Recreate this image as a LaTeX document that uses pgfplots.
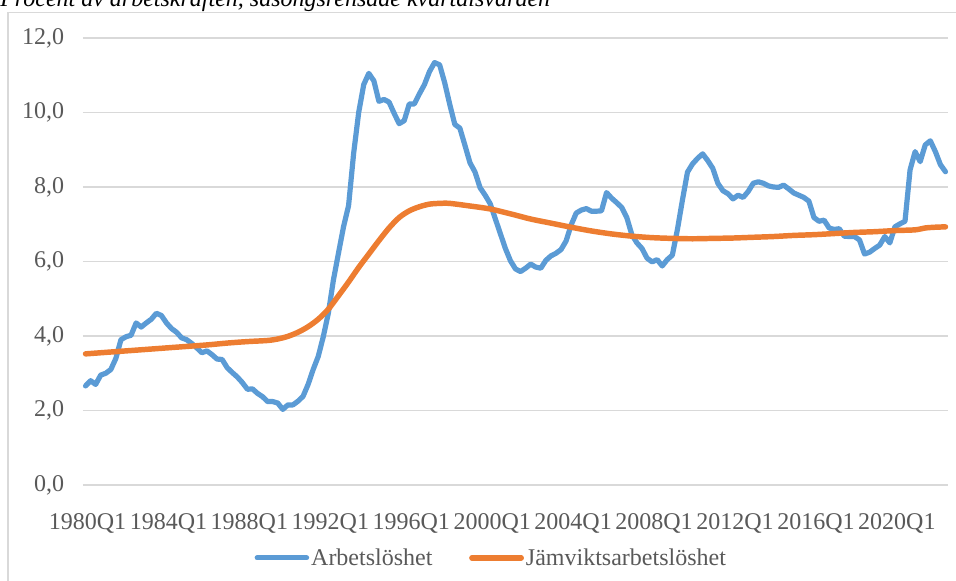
\documentclass[border=0pt]{standalone}
\usepackage{fontspec}
\setmainfont{Liberation Serif}
\usepackage{pgfplots}
\pgfplotsset{compat=1.18}
\definecolor{blueline}{HTML}{5B9BD5}
\definecolor{orangeline}{HTML}{ED7D31}
\definecolor{gridgray}{HTML}{D9D9D9}
\definecolor{labelgray}{HTML}{595959}

% quarter index (0 = 1980Q1) and unemployment, percent
\pgfplotstableread{
q v
0 2.66
1 2.80
2 2.70
3 2.95
4 3.00
5 3.10
6 3.40
7 3.90
8 3.98
9 4.02
10 4.35
11 4.24
12 4.35
13 4.45
14 4.61
15 4.55
16 4.35
17 4.20
18 4.10
19 3.95
20 3.90
21 3.80
22 3.68
23 3.55
24 3.60
25 3.50
26 3.38
27 3.37
28 3.15
29 3.02
30 2.90
31 2.75
32 2.57
33 2.58
34 2.46
35 2.37
36 2.24
37 2.24
38 2.20
39 2.03
40 2.15
41 2.15
42 2.25
43 2.38
44 2.70
45 3.10
46 3.45
47 3.98
48 4.61
49 5.50
50 6.22
51 6.93
52 7.50
53 8.90
54 10.00
55 10.75
56 11.05
57 10.85
58 10.30
59 10.35
60 10.28
61 9.98
62 9.70
63 9.78
64 10.23
65 10.23
66 10.50
67 10.75
68 11.10
69 11.34
70 11.28
71 10.80
72 10.22
73 9.68
74 9.58
75 9.12
76 8.65
77 8.40
78 7.98
79 7.78
80 7.55
81 7.15
82 6.75
83 6.35
84 6.02
85 5.80
86 5.73
87 5.82
88 5.93
89 5.85
90 5.82
91 6.03
92 6.15
93 6.22
94 6.32
95 6.55
96 6.98
97 7.30
98 7.38
99 7.42
100 7.35
101 7.35
102 7.36
103 7.85
104 7.70
105 7.58
106 7.45
107 7.18
108 6.72
109 6.50
110 6.35
111 6.09
112 5.99
113 6.05
114 5.88
115 6.05
116 6.17
117 6.85
118 7.65
119 8.40
120 8.62
121 8.77
122 8.89
123 8.71
124 8.50
125 8.10
126 7.90
127 7.82
128 7.68
129 7.78
130 7.72
131 7.88
132 8.10
133 8.14
134 8.10
135 8.03
136 8.00
137 7.99
138 8.05
139 7.95
140 7.84
141 7.78
142 7.72
143 7.62
144 7.18
145 7.08
146 7.11
147 6.90
148 6.86
149 6.88
150 6.68
151 6.67
152 6.67
153 6.58
154 6.20
155 6.25
156 6.35
157 6.44
158 6.67
159 6.50
160 6.93
161 7.01
162 7.08
163 8.46
164 8.95
165 8.68
166 9.13
167 9.24
168 8.95
169 8.60
170 8.41
}\arbetsloshet

% equilibrium unemployment
\pgfplotstableread{
q v
0 3.52
4 3.56
8 3.60
12 3.64
16 3.68
20 3.72
24 3.76
28 3.81
32 3.85
36 3.88
38 3.92
40 3.99
42 4.10
44 4.25
46 4.45
48 4.72
50 5.08
52 5.45
54 5.84
56 6.20
58 6.56
60 6.90
62 7.18
64 7.36
66 7.47
68 7.54
70 7.56
72 7.56
76 7.49
80 7.41
84 7.28
88 7.14
92 7.03
96 6.92
100 6.82
104 6.74
108 6.68
112 6.64
116 6.62
120 6.61
124 6.62
128 6.63
132 6.65
136 6.67
140 6.70
144 6.72
148 6.75
152 6.78
156 6.80
160 6.83
164 6.85
166 6.90
168 6.92
170 6.93
}\jamvikt

\begin{document}
\begin{tikzpicture}
\path[use as bounding box] (0,0) rectangle (717pt,435.75pt);
\clip (0,0) rectangle (717pt,435.75pt);

% outer chart frame (only top and left visible)
\draw[gridgray, line width=1.1pt] (6pt,-5pt) rectangle (725pt,426.4pt);

% title, cut at the top edge as in the source
\node[anchor=base west, inner sep=0pt, font=\itshape\fontsize{18}{21}\selectfont]
  at (0pt,430.9pt) {Procent av arbetskraften, säsongsrensade kvartalsvärden};

\begin{axis}[
    at={(62.25pt,72pt)}, anchor=south west,
    scale only axis,
    width=648.75pt, height=335.25pt,
    xmin=-0.5, xmax=170.5,
    ymin=0, ymax=12,
    xtick={0,16,32,48,64,80,96,112,128,144,160},
    xticklabels={1980Q1,1984Q1,1988Q1,1992Q1,1996Q1,2000Q1,2004Q1,2008Q1,2012Q1,2016Q1,2020Q1},
    ytick={0,2,4,6,8,10,12},
    ymajorgrids=true,
    grid style={gridgray, line width=1.4pt},
    axis line style={draw=none},
    major tick length=0pt,
    tick label style={font=\fontsize{18}{21}\selectfont, text=labelgray},
    yticklabel style={inner sep=0pt, xshift=-14pt,
        /pgf/number format/.cd, fixed, fixed zerofill, precision=1, use comma, assume math mode=true},
    xticklabel style={inner sep=0pt, yshift=-21pt, xshift=1.5pt},
    legend style={at={(axis description cs:0.472,-0.163)}, anchor=center,
        draw=none, fill=none, legend columns=2,
        font=\fontsize{18}{21}\selectfont, text=labelgray,
        nodes={inner sep=1.5pt},
        /tikz/every even column/.append style={column sep=26pt}},
    legend image code/.code={\draw[#1] (0pt,0pt) -- (37pt,0pt);},
]
\addplot[blueline, line width=3.9pt, line join=round, line cap=round] table[x=q, y=v] {\arbetsloshet};
\addlegendentry{Arbetslöshet}
\addplot[orangeline, line width=4.1pt, line join=round, line cap=round, smooth] table[x=q, y=v] {\jamvikt};
\addlegendentry{Jämviktsarbetslöshet}
\end{axis}
\end{tikzpicture}
\end{document}
